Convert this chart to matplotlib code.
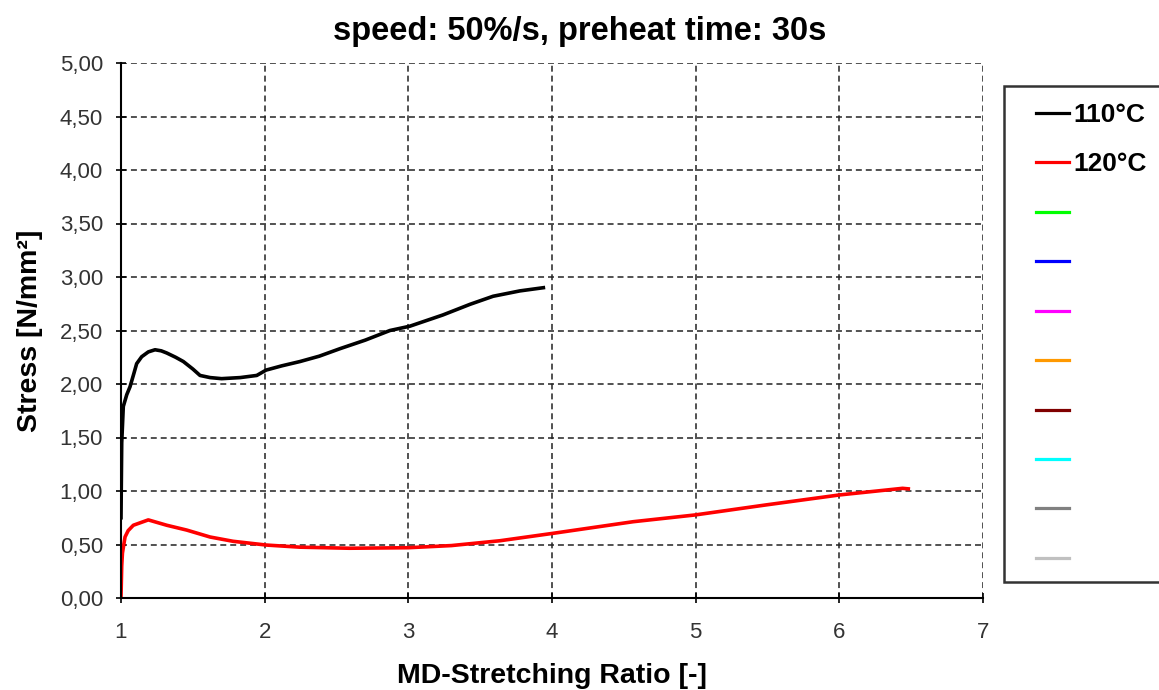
# coding: utf-8

import matplotlib.pyplot as plt
from matplotlib.lines import Line2D
from matplotlib.patches import Rectangle
from matplotlib.ticker import FuncFormatter

plt.rcParams['font.family'] = ['Liberation Sans', 'DejaVu Sans']

# 110°C curve (stretch ratio, stress)
ratio_110 = [1.0, 1.005, 1.016, 1.04, 1.063, 1.09, 1.109, 1.144, 1.19, 1.237, 1.28, 1.318,
             1.38, 1.434, 1.5, 1.55, 1.62, 1.7, 1.83, 1.945, 2.01, 2.12, 2.246, 2.38,
             2.524, 2.7, 2.872, 3.01, 3.24, 3.43, 3.59, 3.776, 3.94]
stress_110 = [0.75, 1.45, 1.79, 1.9, 1.975, 2.1, 2.19, 2.255, 2.3, 2.32, 2.31, 2.29,
              2.25, 2.21, 2.14, 2.08, 2.06, 2.05, 2.06, 2.08, 2.13, 2.17, 2.21, 2.26,
              2.33, 2.41, 2.5, 2.54, 2.645, 2.745, 2.82, 2.87, 2.9]

# 120°C curve
ratio_120 = [1.0, 1.005, 1.01, 1.028, 1.05, 1.086, 1.19, 1.318, 1.457, 1.62, 1.78, 2.01,
             2.246, 2.59, 3.0, 3.3, 3.637, 4.01, 4.565, 4.995, 5.49, 6.0, 6.44, 6.48]
stress_120 = [0.01, 0.3, 0.42, 0.57, 0.63, 0.68, 0.73, 0.68, 0.635, 0.57, 0.53, 0.495,
              0.475, 0.465, 0.47, 0.49, 0.535, 0.605, 0.713, 0.776, 0.87, 0.963, 1.025, 1.02]

legend_labels = ['110°C', '120°C', '', '', '', '', '', '', '', '']
legend_colors = ['black', 'red', '#00ff00', '#0000ff', '#ff00ff', '#ff9900',
                 '#800000', '#00ffff', '#808080', '#c0c0c0']

W, H = 1159, 690
fig = plt.figure(figsize=(W / 100, H / 100), dpi=100)
ax = fig.add_axes([121 / W, 92 / H, 862 / W, 535 / H])

ax.plot(ratio_110, stress_110, color='black', lw=2.6)
ax.plot(ratio_120, stress_120, color='red', lw=2.6)

ax.set_xlim(1, 7)
ax.set_ylim(0, 5)
ax.set_xticks(range(1, 8))
ax.set_yticks([i * 0.5 for i in range(11)])
ax.yaxis.set_major_formatter(FuncFormatter(lambda v, p: ('%.2f' % v).replace('.', ',')))
ax.tick_params(direction='inout', length=7, width=1.2, labelsize=16, color='black',
               labelcolor='#333333')
ax.tick_params(axis='y', pad=9.5)
ax.tick_params(axis='x', pad=13.5)
ax.grid(True, color='#222222', linestyle=(0, (3.9, 2.6)), linewidth=1.1)
ax.spines['top'].set_visible(False)
ax.spines['right'].set_visible(False)
ax.spines['left'].set_linewidth(1.5)
ax.spines['bottom'].set_linewidth(1.5)

ax.set_xlabel('MD-Stretching Ratio [-]', fontsize=20.5, fontweight='bold', labelpad=15)
ax.set_ylabel('Stress [N/mm²]', fontsize=20.5, fontweight='bold', labelpad=12)
fig.text(0.5, 1 - 40 / H, 'speed: 50%/s, preheat time: 30s', ha='center', va='baseline',
         fontsize=23.5, fontweight='bold')

# legend box
fig.add_artist(Rectangle((1004 / W, 1 - 582 / H), 200 / W, 496 / H, transform=fig.transFigure,
                         facecolor='white', edgecolor='#333333', lw=1.8, zorder=1))
handles = [Line2D([], [], color=c, lw=2.3) for c in legend_colors]
leg = fig.legend(handles, legend_labels, loc='upper left',
                 bbox_to_anchor=(1036 / W, 1 - 103 / H), frameon=False,
                 prop={'weight': 'bold', 'size': 19}, handlelength=1.25, handletextpad=0.18,
                 labelspacing=0.965, borderpad=0, borderaxespad=0)
leg.set_zorder(2)

fig.savefig('out.png', dpi=100)
